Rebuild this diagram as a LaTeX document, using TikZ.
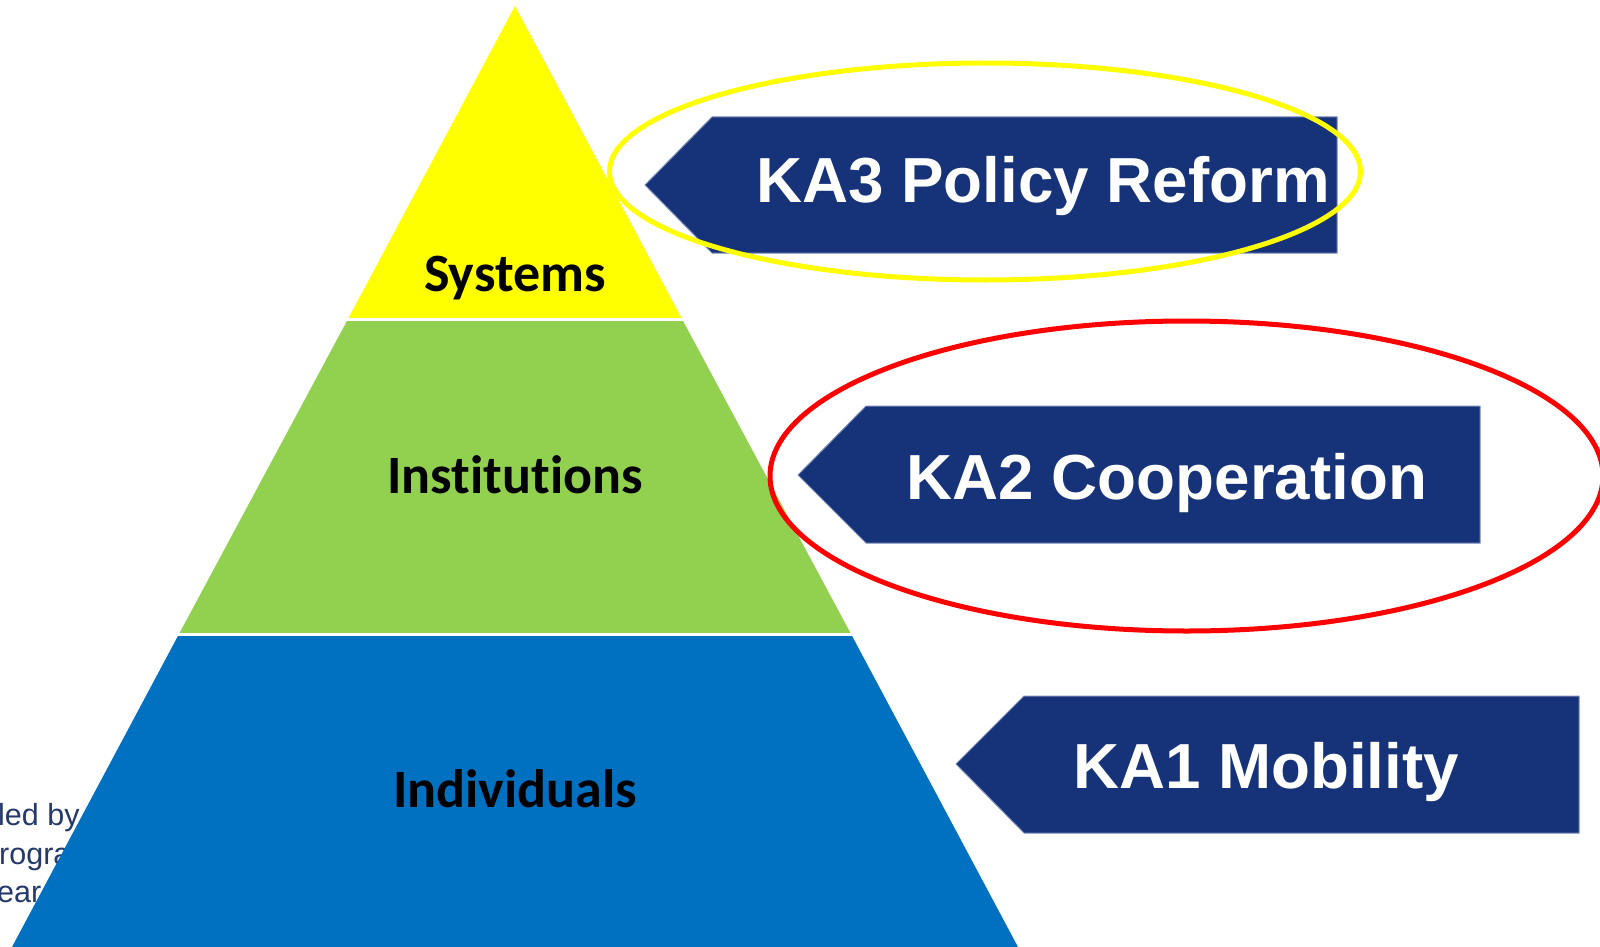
\documentclass[tikz,border=0pt]{standalone}
\usepackage{fontspec}
\setmainfont{Liberation Sans}
\newfontfamily\calibri[Ligatures=NoCommon]{Carlito}
\definecolor{sysyellow}{HTML}{FFFF00}
\definecolor{instgreen}{HTML}{92D050}
\definecolor{indblue}{HTML}{0070C0}
\definecolor{kanavy}{HTML}{163279}
\definecolor{kaedge}{HTML}{7A8BB8}
\definecolor{bgtxt}{HTML}{26396B}
\definecolor{ringyellow}{HTML}{FFFF00}
\definecolor{ringred}{HTML}{FF0000}
\tikzset{
  layerlabel/.style={inner sep=0pt, anchor=base, font=\calibri\bfseries\fontsize{54}{60}\selectfont, text=black},
  kalabel/.style={inner sep=0pt, anchor=base, font=\bfseries\fontsize{63.7}{72}\selectfont, text=white},
  kabox/.style={fill=kanavy, draw=kaedge, line width=1pt},
  bgline/.style={inner sep=0pt, anchor=base west, font=\fontsize{30.5}{36}\selectfont, text=bgtxt},
  sep/.style={draw=white, line width=3pt},
  ring/.style={line width=5pt}
}
\begin{document}
\begin{tikzpicture}[x=1pt,y=-1pt]
\useasboundingbox (0,0) rectangle (1600,947);
\fill[white] (0,0) rectangle (1600,947);

% partial background text
\node[bgline] (bg1) at (-2,825) {led by};
\node[bgline] (bg2) at (-1,864) {rogra};
\node[bgline] (bg3) at (-3,902) {ear};

% pyramid layers
\fill[sysyellow] (515,6) -- (682,319) -- (348,319) -- cycle;
\fill[instgreen] (348,319) -- (682,319) -- (851,634) -- (179,634) -- cycle;
\fill[indblue] (179,634) -- (851,634) -- (1018,947) -- (12,947) -- cycle;
\draw[sep] (340,319) -- (690,319);
\draw[sep] (170,634) -- (860,634);

\node[layerlabel] (sys) at (515,291) {Systems};
\node[layerlabel] (inst) at (515,493) {Institutions};
\node[layerlabel] (ind) at (515,807) {Individuals};

% KA arrows
\path[kabox] (645,185) -- (712,117) -- (1337,117) -- (1337,253) -- (712,253) -- cycle;
\path[kabox] (798,475) -- (866,406) -- (1480,406) -- (1480,543) -- (866,543) -- cycle;
\path[kabox] (956,764) -- (1024,696) -- (1579,696) -- (1579,833) -- (1024,833) -- cycle;

\node[kalabel] (ka3) at (1043,202) {KA3 Policy Reform};
\node[kalabel] (ka2) at (1167,499) {KA2 Cooperation};
\node[kalabel] (ka1) at (1266,788) {KA1 Mobility};

% highlight rings
\draw[ring, ringyellow] (985,171.5) ellipse [x radius=375.5pt, y radius=108.5pt];
\draw[ring, ringred] (1186.5,476) ellipse [x radius=416.5pt, y radius=155pt];
\end{tikzpicture}
\end{document}
